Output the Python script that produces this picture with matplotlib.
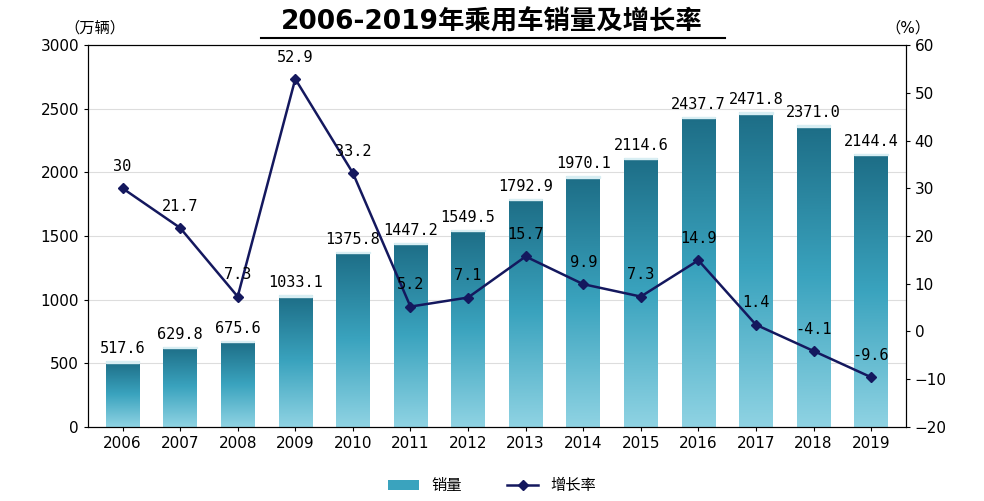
import matplotlib
matplotlib.use("Agg")
import matplotlib.pyplot as plt
import numpy as np
from matplotlib.patches import Rectangle
from matplotlib.colors import LinearSegmentedColormap

plt.rcParams['font.family'] = ['DejaVu Sans', 'Noto Sans CJK SC']

years = ['2006','2007','2008','2009','2010','2011','2012','2013','2014','2015','2016','2017','2018','2019']
sales = [517.6,629.8,675.6,1033.1,1375.8,1447.2,1549.5,1792.9,1970.1,2114.6,2437.7,2471.8,2371.0,2144.4]
growth = [30,21.7,7.3,52.9,33.2,5.2,7.1,15.7,9.9,7.3,14.9,1.4,-4.1,-9.6]
sales_labels = ['517.6','629.8','675.6','1033.1','1375.8','1447.2','1549.5','1792.9','1970.1','2114.6','2437.7','2471.8','2371.0','2144.4']
growth_labels = ['30','21.7','7.3','52.9','33.2','5.2','7.1','15.7','9.9','7.3','14.9','1.4','-4.1','-9.6']

fig = plt.figure(figsize=(9.84,5.01), dpi=100)
ax = fig.add_axes([0.0894,0.148,0.831,0.762])
x = np.arange(len(years))
cmap = LinearSegmentedColormap.from_list('g', ['#1d6d86', '#3aa3be', '#8fd3e3'])
bars = ax.bar(x, sales, width=0.58, color='none', zorder=2)
grad = np.linspace(0,1,256).reshape(-1,1)
for b in bars:
    xb, w, h = b.get_x(), b.get_width(), b.get_height()
    im = ax.imshow(grad, extent=[xb, xb+w, 0, h], origin='upper', cmap=cmap, aspect='auto', zorder=2)
    im.set_clip_path(b)
    ax.add_patch(Rectangle((xb, h-12), w, 12, color='#d8eef3', zorder=3))
for i,(v,l) in enumerate(zip(sales,sales_labels)):
    ax.text(i, v+40, l, ha='center', va='bottom', fontsize=11, family='DejaVu Sans Mono', zorder=5)
ax.set_xlim(-0.6, len(years)-0.4)
ax.set_ylim(0,3000)
ax.set_yticks(range(0,3001,500))
ax.set_xticks(x)
ax.set_xticklabels(years)
ax.tick_params(labelsize=11, length=3)
ax.yaxis.grid(True, color='#dddddd', lw=0.8)
ax.set_axisbelow(True)

ax2 = ax.twinx()
ax2.plot(x, growth, color='#14185e', lw=1.8, marker='D', ms=5, zorder=4)
ax2.set_ylim(-20,60)
ax2.set_yticks(range(-20,61,10))
ax2.tick_params(labelsize=11, length=3)
for i,(v,l) in enumerate(zip(growth,growth_labels)):
    ax2.text(i, v+3, l, ha='center', va='bottom', fontsize=11, family='DejaVu Sans Mono', zorder=5)

fig.text(0.5, 0.955, '2006-2019年乘用车销量及增长率', ha='center', va='center', fontsize=19, fontweight='bold')
fig.add_artist(plt.Line2D([0.265,0.737],[0.925,0.925], color='black', lw=1.5))
fig.text(0.065, 0.945, '（万辆）', fontsize=11, ha='left', va='center')
fig.text(0.9, 0.945, '（%）', fontsize=11, ha='left', va='center')

from matplotlib.patches import Patch
from matplotlib.lines import Line2D
h1 = Patch(facecolor='#3aa3be')
h2 = Line2D([],[],color='#14185e', marker='D', ms=5, lw=1.8)
fig.legend([h1,h2], ['销量','增长率'], loc='center', bbox_to_anchor=(0.5,0.03), ncol=2, frameon=False, fontsize=11, columnspacing=3)
fig.savefig('out.png', dpi=100)
